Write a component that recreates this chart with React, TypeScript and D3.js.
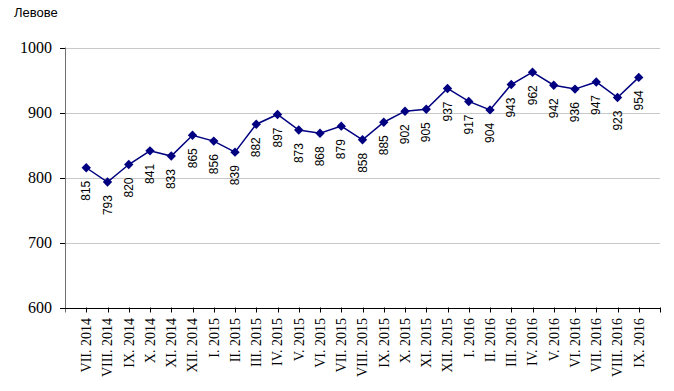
import React from "react";
import * as d3 from "d3";

const categories = [
  "VII. 2014", "VIII. 2014", "IX. 2014", "X. 2014", "XI. 2014", "XII. 2014",
  "I. 2015", "II. 2015", "III. 2015", "IV. 2015", "V. 2015", "VI. 2015",
  "VII. 2015", "VIII. 2015", "IX. 2015", "X. 2015", "XI. 2015", "XII. 2015",
  "I. 2016", "II. 2016", "III. 2016", "IV. 2016", "V. 2016", "VI. 2016",
  "VII. 2016", "VIII. 2016", "IX. 2016",
];
const values = [
  815, 793, 820, 841, 833, 865, 856, 839, 882, 897, 873, 868, 879, 858, 885,
  902, 905, 937, 917, 904, 943, 962, 942, 936, 947, 923, 954,
];
const yTicks = [600, 700, 800, 900, 1000];
const yTitle = "Левове";

const SERIF = "'Liberation Serif', 'Times New Roman', serif";
const SANS = "'Liberation Sans', Arial, sans-serif";

export default function App() {
  const W = 674, H = 391;
  const left = 65, right = 660, top = 47.5, bottom = 307.5;
  const x = d3.scalePoint<string>().domain(categories).range([left, right]).padding(1);
  const y = d3.scaleLinear().domain([600, 1000]).range([bottom, top]);
  const line = d3.line<number>().x((_, i) => x(categories[i])!).y((d) => y(d));
  const diamond = d3.symbol().type(d3.symbolSquare).size(44)()!;

  return (
    <svg width={W} height={H} style={{ position: "absolute", left: 0, top: 0 }}>
      <rect width={W} height={H} fill="#fff" />
      <text x={14} y={17} fontFamily={SANS} fontSize={13} fill="#000">
        {yTitle}
      </text>
      {yTicks.filter((t) => t > 600).map((t) => (
        <line key={"g" + t} x1={left} x2={right} y1={Math.round(y(t)) + 0.5} y2={Math.round(y(t)) + 0.5} stroke="#c8c8c8" strokeWidth={1} />
      ))}
      {yTicks.map((t) => (
        <g key={"y" + t}>
          <line x1={60} x2={left} y1={Math.round(y(t)) + 0.5} y2={Math.round(y(t)) + 0.5} stroke="#000" />
          <text x={52} y={y(t)} dy="0.35em" textAnchor="end" fontFamily={SERIF} fontSize={16} fill="#000">
            {t}
          </text>
        </g>
      ))}
      <line x1={left + 0.5} x2={left + 0.5} y1={top} y2={bottom + 5} stroke="#707070" strokeWidth={1} />
      <line x1={60} x2={right} y1={Math.round(bottom) + 0.5} y2={Math.round(bottom) + 0.5} stroke="#000" strokeWidth={1} />
      {[...categories.map((c) => x(c)!), right].map((px, i) => (
        <line key={"xt" + i} x1={Math.round(px) + 0.5} x2={Math.round(px) + 0.5} y1={bottom} y2={bottom + 5} stroke="#000" />
      ))}
      {categories.map((c) => (
        <text key={"xl" + c} transform={`translate(${x(c)},318) rotate(-90)`} dy="0.35em" textAnchor="end"
          fontFamily={SERIF} fontSize={14} fill="#000">
          {c}
        </text>
      ))}
      <path d={line(values)!} fill="none" stroke="#000080" strokeWidth={1.5} />
      {values.map((v, i) => (
        <path key={"m" + i} d={diamond} transform={`translate(${x(categories[i])},${y(v)}) rotate(45)`} fill="#000080" />
      ))}
      {values.map((v, i) => (
        <text key={"dl" + i} transform={`translate(${x(categories[i])},${y(v) + 13}) rotate(-90)`} dy="0.35em" textAnchor="end"
          fontFamily={SANS} fontSize={12} fill="#000">
          {v}
        </text>
      ))}
    </svg>
  );
}
